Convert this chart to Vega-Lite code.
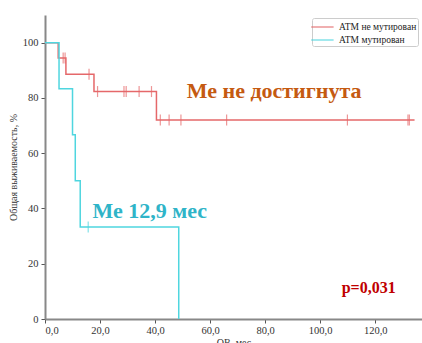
{
  "$schema": "https://vega.github.io/schema/vega-lite/v6.json",
  "autosize": {"type": "none"},
  "padding": {"left": 45, "top": 15, "right": 0, "bottom": 24},
  "width": 377,
  "height": 304,
  "background": "white",
  "config": {
    "view": {"stroke": null},
    "font": "Liberation Serif, serif",
    "axis": {
      "grid": false,
      "domainColor": "#888888",
      "domainWidth": 2,
      "tickColor": "#555555",
      "tickSize": 4,
      "labelFont": "Liberation Serif, serif",
      "labelFontSize": 10.5,
      "labelColor": "#333333",
      "titleFont": "Liberation Serif, serif",
      "titleFontSize": 10,
      "titleFontWeight": "normal",
      "titleColor": "#333333"
    }
  },
  "datasets": {
    "surv": [
      {"group": "ATM не мутирован", "t": 0, "s": 100},
      {"group": "ATM не мутирован", "t": 4.8, "s": 94.4},
      {"group": "ATM не мутирован", "t": 7.6, "s": 88.6},
      {"group": "ATM не мутирован", "t": 17.8, "s": 82.3},
      {"group": "ATM не мутирован", "t": 40.5, "s": 72.0},
      {"group": "ATM не мутирован", "t": 134.3, "s": 72.0},
      {"group": "ATM мутирован", "t": 0, "s": 100},
      {"group": "ATM мутирован", "t": 5.1, "s": 83.3},
      {"group": "ATM мутирован", "t": 10.0, "s": 66.7},
      {"group": "ATM мутирован", "t": 11.0, "s": 50.0},
      {"group": "ATM мутирован", "t": 12.8, "s": 33.3},
      {"group": "ATM мутирован", "t": 48.6, "s": 0}
    ],
    "cens": [
      {"group": "ATM не мутирован", "t": 6.6, "s": 94.4},
      {"group": "ATM не мутирован", "t": 7.3, "s": 94.4},
      {"group": "ATM не мутирован", "t": 16.0, "s": 88.6},
      {"group": "ATM не мутирован", "t": 19.1, "s": 82.3},
      {"group": "ATM не мутирован", "t": 28.7, "s": 82.3},
      {"group": "ATM не мутирован", "t": 29.5, "s": 82.3},
      {"group": "ATM не мутирован", "t": 34.2, "s": 82.3},
      {"group": "ATM не мутирован", "t": 38.7, "s": 82.3},
      {"group": "ATM не мутирован", "t": 41.9, "s": 72.0},
      {"group": "ATM не мутирован", "t": 45.1, "s": 72.0},
      {"group": "ATM не мутирован", "t": 49.4, "s": 72.0},
      {"group": "ATM не мутирован", "t": 66.0, "s": 72.0},
      {"group": "ATM не мутирован", "t": 109.9, "s": 72.0},
      {"group": "ATM не мутирован", "t": 131.9, "s": 72.0},
      {"group": "ATM не мутирован", "t": 132.4, "s": 72.0},
      {"group": "ATM мутирован", "t": 15.7, "s": 33.3}
    ],
    "medRef": [{"label": "Ме не достигнута", "t": 51.5, "s": 79.9}],
    "medMut": [{"label": "Ме 12,9 мес", "t": 17.3, "s": 36.4}],
    "pval": [{"label": "p=0,031", "t": 107.8, "s": 9.3}]
  },
  "layer": [
    {
      "mark": {"type": "rule", "color": "#888888", "strokeWidth": 2},
      "encoding": {"y": {"datum": 110, "type": "quantitative"}}
    },
    {
      "data": {"name": "surv"},
      "mark": {"type": "line", "interpolate": "step-after", "strokeWidth": 1.5},
      "encoding": {
        "x": {
          "field": "t", "type": "quantitative",
          "scale": {"domain": [0, 137], "nice": false, "zero": false},
          "axis": {
            "values": [0, 20, 40, 60, 80, 100, 120],
            "labelExpr": "replace(format(datum.value, '.1f'), '.', ',')",
            "title": "ОВ, мес",
            "labelPadding": 2,
            "titlePadding": 2
          }
        },
        "y": {
          "field": "s", "type": "quantitative",
          "scale": {"domain": [0, 110], "nice": false},
          "axis": {
            "values": [0, 20, 40, 60, 80, 100],
            "title": "Общая выживаемость, %",
            "titleX": -27,
            "labelPadding": 3
          }
        },
        "color": {
          "field": "group", "type": "nominal",
          "scale": {"domain": ["ATM не мутирован", "ATM мутирован"], "range": ["#e5686a", "#4fd6df"]},
          "legend": {
            "title": null,
            "orient": "none",
            "legendX": 267,
            "legendY": 3,
            "symbolType": "M-1.4,0H1.8",
            "symbolSize": 196,
            "symbolStrokeWidth": 1.5,
            "labelFont": "Liberation Serif, serif",
            "labelFontSize": 9.5,
            "labelColor": "#222222",
            "labelOffset": 10,
            "rowPadding": 0,
            "padding": 1,
            "fillColor": "white",
            "strokeColor": "#cccccc",
            "cornerRadius": 2
          }
        },
        "detail": {"field": "group"}
      }
    },
    {
      "data": {"name": "cens"},
      "mark": {"type": "tick", "orient": "vertical", "size": 11, "thickness": 1.2},
      "encoding": {
        "x": {"field": "t", "type": "quantitative"},
        "y": {"field": "s", "type": "quantitative"},
        "color": {"field": "group", "type": "nominal"}
      }
    },
    {
      "mark": {"type": "rule", "color": "#333333", "strokeWidth": 1.5, "strokeDash": [5, 3]},
      "encoding": {"y": {"datum": 50, "type": "quantitative"}}
    },
    {
      "data": {"name": "medRef"},
      "mark": {"type": "text", "font": "Liberation Serif, serif", "fontWeight": "bold", "fontSize": 22, "color": "#c55a11", "align": "left", "baseline": "alphabetic"},
      "encoding": {
        "x": {"field": "t", "type": "quantitative"},
        "y": {"field": "s", "type": "quantitative"},
        "text": {"field": "label"}
      }
    },
    {
      "data": {"name": "medMut"},
      "mark": {"type": "text", "font": "Liberation Serif, serif", "fontWeight": "bold", "fontSize": 22, "color": "#2fb4c8", "align": "left", "baseline": "alphabetic"},
      "encoding": {
        "x": {"field": "t", "type": "quantitative"},
        "y": {"field": "s", "type": "quantitative"},
        "text": {"field": "label"}
      }
    },
    {
      "data": {"name": "pval"},
      "mark": {"type": "text", "font": "Liberation Serif, serif", "fontWeight": "bold", "fontSize": 16, "color": "#c00000", "align": "left", "baseline": "alphabetic"},
      "encoding": {
        "x": {"field": "t", "type": "quantitative"},
        "y": {"field": "s", "type": "quantitative"},
        "text": {"field": "label"}
      }
    }
  ]
}
